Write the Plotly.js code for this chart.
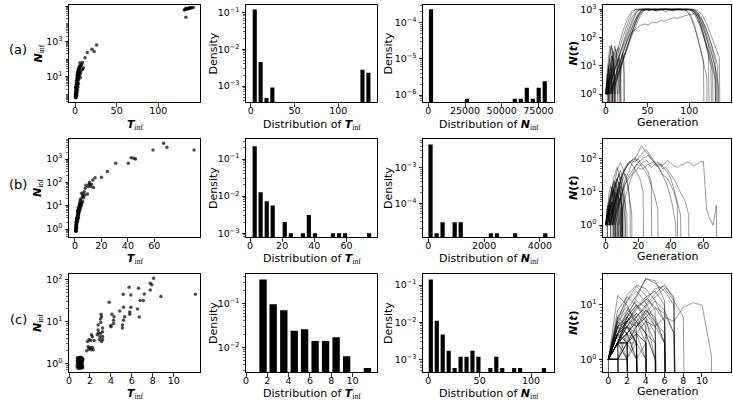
<!DOCTYPE html>
<html><head><meta charset="utf-8">
<script src="https://cdn.plot.ly/plotly-3.0.1.min.js"></script>
<style>html,body{margin:0;padding:0;background:#fff}#chart{width:733px;height:402px}</style>
</head><body><div id="chart"></div>
<script>
// ---------------- DATA ----------------
// Row (a): scatter T_inf vs N_inf
const scatterA = [[0.5,0.7],[0.8,0.8],[1,1],[0.6,1.2],[1.2,0.9],[0.9,1.5],[1.5,1.1],[1.1,2],[1.8,1.6],[0.7,2.5],[1.4,3],[2,2.2],[2.2,3.5],[1.6,4.5],[2.5,5],[1.9,6],[2.8,7],[2.3,8.5],[3,10],[2.6,12],[3.4,9],[3.2,14],[3.8,12],[2.9,17],[4,18],[3.5,22],[4.4,25],[5.2,40],[4.8,30],[5.5,20],[6,62],[6.8,17],[7,45],[8,50],[9.2,26],[10,32],[9,63],[12,120],[14.8,235],[20.4,360],[23,270],[26,620],[1,0.65],[2,0.9],[2.4,1.3],[3.1,1.8],[3.6,2.6],[4.2,4],[3.3,5.5],[4.6,7.5],[5.1,11],[5.8,14],[6.3,9],[7.5,24],[0.4,1],[1.3,1.3],
  [0.6,0.75],[1.1,0.7],[1.6,0.8],[0.9,1.1],[1.4,1.6],[1.9,1.2],[2.1,1.8],[1.2,2.4],[1.7,2.8],[2.4,2.6],[2.7,3.2],[2.1,4.2],[2.9,4.6],[3.3,6.5],[2.6,7.5],[3.6,8],[3.1,11.5],[4.1,13],[3.7,16],[4.5,20],[4.2,28],[5,16],[5.6,33],[6.5,38],[1.8,3.8],[2.3,5.8],
  [133,23000],[131,60000],[132,64000],[134,68000],[135,68000],[136,72000],[133,76000],[138,76000],[137,80000],[140,80000],[142,82000],[139,79000]];
// Row (a): histogram of T_inf
const histTA_x = [4.6, 11.3, 18.0, 24.7, 127.6, 134.4];
const histTA_y = [0.12, 0.0045, 0.00048, 0.00092, 0.0028, 0.0023];
// Row (a): histogram of N_inf
const histNA_x = [1840, 26300, 58900, 63000, 67100, 71150, 75200, 79300];
const histNA_y = [2.35e-4, 8e-7, 8e-7, 8e-7, 1.6e-6, 8e-7, 1.6e-6, 2.4e-6];
// Row (a): trajectories [start generation, step, values]
const trajA = [
 [1,5,[1,4,12,40,110,300,700,1000,1000,900,1000,980,850,1000,1000,990,920,1000,1000,1000,1000,900,600,250,90,20,3,0]],
 [3,5,[1,2,6,15,45,120,280,600,950,1000,880,1000,960,1000,1000,900,980,1000,1000,1000,940,700,350,120,30,6,0]],
 [2,5,[1,3,9,30,90,250,550,900,1000,1000,920,1000,1000,970,800,1000,1000,1000,1000,880,500,200,60,15,0]],
 [5,5,[1,2,5,14,35,90,220,480,850,1000,1000,930,1000,940,1000,870,1000,990,1000,1000,950,750,400,150,50,12,2,0]],
 [1,5,[1,5,18,60,180,450,850,1000,1000,960,1000,1000,1000,900,1000,1000,1000,950,1000,980,700,300,80,20,4,0]],
 [4,5,[1,2,7,20,55,150,350,700,1000,1000,980,900,1000,1000,1000,950,1000,1000,860,1000,1000,850,550,250,100,35,10,0]],
 [2,5,[1,3,10,28,70,180,420,800,1000,1000,1000,940,1000,1000,1000,1000,900,1000,1000,1000,920,600,300,110,45,15,3,0]],
 [6,5,[1,3,10,35,90,150,200,260,300,280,350,330,400,380,450,500,480,550,600,650,700,600,400,180,60,15,0]],
 [3,5,[1,2,4,10,30,80,200,450,800,1000,1000,1000,950,1000,1000,1000,1000,870,1000,1000,900,650,300,100,25,0]],
 [8,5,[1,3,8,25,70,200,500,900,1000,1000,960,1000,1000,1000,920,1000,1000,1000,1000,960,800,450,180,60,20,5,0]],
 [1,5,[1,3,8,20,50,130,320,700,1000,1000,1000,1000,910,1000,1000,1000,1000,1000,940,1000,1000,820,450,160,40,10,0]],
 [6,5,[1,2,6,18,50,140,380,780,1000,920,1000,1000,1000,1000,1000,960,1000,1000,1000,1000,1000,880,600,300,120,50,20,0]],
 [0,1,[1,2,4,7,12,20,30,45,38,25,12,5,0]],
 [1,1,[1,3,6,14,25,40,55,35,15,4,0]],
 [0,1,[1,1,2,1,0]],
 [2,1,[1,2,5,9,15,22,18,10,3,0]],
 [0,1,[1,3,8,15,28,50,40,20,6,0]],
 [3,1,[1,2,3,6,10,16,25,35,50,30,12,4,0]],
 [0,1,[1,2,1,0]],
 [1,1,[1,2,4,3,6,9,5,2,0]],
 [5,1,[1,2,4,8,14,22,30,40,28,15,6,2,0]],
 [8,1,[1,2,5,9,16,25,35,45,30,12,3,0]],
 [12,1,[1,3,6,12,20,15,8,2,0]],
 [0,1,[1,3,5,2,0]],
 [2,1,[1,4,10,18,12,6,1,0]],
 [4,1,[1,2,5,10,20,32,22,9,2,0]],
 [14,1,[1,2,4,8,14,20,28,15,5,0]],
 [1,1,[1,1,3,2,1,0]],
 [6,1,[1,3,7,12,9,4,1,0]],
 [0,1,[1,2,3,5,8,12,9,6,2,0]],
 [0,1,[1,2,3,2,0]],
 [1,1,[1,2,4,8,6,3,0]],
 [0,1,[1,3,7,10,6,2,0]],
 [2,1,[1,2,3,5,4,2,1,0]],
 [0,1,[1,1,2,3,1,0]],
 [3,1,[1,3,6,9,14,22,15,7,2,0]],
 [10,1,[1,2,4,7,11,17,13,6,0]],
 [16,1,[1,3,6,10,18,25,12,3,0]]
];

// Row (b)
const scatterB = [[0.5,0.8],[0.8,1],[1,1.2],[0.6,0.9],[1.2,1.5],[0.9,1.3],[1.5,1.8],[1.1,2.2],[1.8,2.5],[0.7,1.1],[1.4,2.9],[2,3.5],[2.2,4.2],[1.6,2.3],[2.5,5],[1.9,4],[2.8,6],[2.3,6.5],[3,7],[2.6,8.5],[3.4,10],[3.3,12],[4,10],[3.8,14],[4,17],[5,34],[5.8,25],[7.5,29],[9.5,32],[5.8,15],[4.5,20],[2.5,4],[2,6],[2.7,3],[1.5,2.9],[2,2.3],[0.8,1.85],[0.8,1.35],[0.5,1],[0.8,0.8],[8.3,75],[7.8,56],[10,66],[10.8,83],[12.5,83],[12,66],[14,60],[15.2,160],[20,165],[24.5,290],[30.8,660],[40.3,660],[42.5,1150],[44.5,1080],[45.8,1000],[59,2450],[67,4800],[69.5,3200],[90,2450],[6.5,22],[11,100],[13.5,126],[6,30],[7,40],[3.6,9],[4.8,12],
  [0.6,1.05],[0.9,0.85],[1.1,1.6],[1.3,1.1],[0.7,1.5],[1,2],[1.7,2],[1.3,2.6],[2.1,2.9],[2.4,3.3],[1.8,3.1],[2.9,4.5],[3.2,5.5],[2.2,5],[3.6,6.2],[4.3,8],[4.7,10],[5.2,13],[3,8]];
const histTB_x = [2.9, 6.6, 10.4, 14.1, 21.6, 25.4, 32.9, 36.6, 40.4, 51.6, 55.4, 59.1, 74.1];
const histTB_y = [0.22, 0.0128, 0.0073, 0.0056, 0.002, 0.001, 0.001, 0.0031, 0.001, 0.001, 0.001, 0.001, 0.001];
const histNB_x = [79, 296, 512, 945, 1162, 2245, 2462, 3112, 4194];
const histNB_y = [0.0045, 1.44e-5, 2.9e-5, 2.9e-5, 2.9e-5, 1.44e-5, 1.44e-5, 1.44e-5, 1.44e-5];
const trajB = [
 [4,2,[1,2,5,9,18,25,35,40,55,48,60,70,55,65,80,60,70,90,75,60,55,65,70,80,75,60,70,80,85,3,1.5,1,4,0]],
 [6,2,[1,4,10,25,40,70,100,150,250,180,140,100,80,60,40,30,25,15,10,4,0]],
 [3,2,[1,3,8,20,40,60,80,100,90,120,160,190,140,100,70,50,30,20,10,4,1,0]],
 [2,2,[1,2,6,15,30,50,70,90,80,100,70,60,40,20,0]],
 [5,2,[1,3,6,12,25,35,50,70,60,80,90,70,80,60,75,50,55,40,30,20,12,8,5,2,0]],
 [1,1,[1,3,6,10,18,30,45,60,75,60,45,30,20,12,5,2,0]],
 [3,2,[1,4,10,25,45,70,85,60,40,25,10,0]],
 [2,2,[1,2,5,12,30,50,75,90,110,80,60,45,30,15,8,3,0]],
 [8,2,[1,3,7,15,30,55,80,95,110,130,100,80,60,70,50,40,25,12,5,2,0]],
 [0,1,[1,2,5,9,14,10,6,2,0]],
 [1,1,[1,3,7,12,20,15,9,4,0]],
 [0,1,[1,1,2,4,3,1,0]],
 [2,1,[1,2,4,8,15,25,30,22,12,5,1,0]],
 [0,1,[1,3,2,1,0]],
 [3,1,[1,2,6,10,8,5,2,0]],
 [1,1,[1,2,3,6,12,18,14,8,3,0]],
 [0,1,[1,4,9,15,10,5,1,0]],
 [4,1,[1,2,2,4,7,5,3,0]],
 [2,1,[1,1,3,6,11,16,20,12,4,0]],
 [1,1,[1,2,5,3,1,0]],
 [3,1,[1,3,8,14,22,35,28,15,5,0]],
 [0,1,[1,2,4,6,9,12,8,5,3,1,0]],
 [1,1,[1,3,5,8,14,20,26,18,9,3,0]],
 [0,1,[1,2,3,2,4,6,3,1,0]],
 [2,1,[1,4,8,13,18,24,33,45,30,14,6,0]],
 [0,1,[1,1,0]],
 [0,1,[1,2,0]],
 [1,1,[1,2,4,5,3,0]],
 [0,1,[1,3,6,9,15,22,17,12,6,0]],
 [3,1,[1,2,4,7,12,10,7,3,0]],
 [0,1,[1,2,5,7,10,14,18,24,16,8,2,0]],
 [5,1,[1,3,5,9,13,20,28,36,25,11,3,0]],
 [0,1,[1,4,2,1,0]],
 [1,1,[1,2,3,5,9,6,4,1,0]],
 [2,1,[1,3,6,12,8,4,0]],
 [0,1,[1,2,4,9,16,28,40,55,38,22,9,2,0]],
 [4,1,[1,2,3,6,10,15,12,8,4,2,0]],
 [0,1,[1,2,2,3,5,4,2,0]],
 [1,1,[1,1,2,3,2,1,0]],
 [0,1,[1,3,4,7,11,8,4,0]],
 [2,1,[1,2,3,4,6,9,6,3,1,0]],
 [0,1,[1,2,4,3,2,0]],
 [3,1,[1,1,2,5,8,13,9,4,0]]
];

// Row (c)
const scatterC = [[0.8,0.8],[0.9,1],[1,1.2],[1.1,0.9],[1.2,1.1],[0.85,1.3],[0.95,0.85],[1.05,1.05],[1.15,1.3],[1.25,0.8],[0.8,1.15],[0.9,0.75],[1,0.95],[1.1,1.25],[1.2,0.95],[1.3,1.2],[0.85,1],[0.95,1.35],[1.05,0.78],[1.15,1.1],[1.25,1],[1.3,0.88],
 [0.78,0.9],[0.82,1.22],[0.88,0.8],[0.92,1.1],[0.98,1.28],[1.02,0.82],[1.08,1.15],[1.12,0.76],[1.18,1.2],[1.22,0.86],[1.28,1.1],[1.32,1.3],[0.8,1.35],[0.9,1.2],[1,0.78],[1.1,1.05],[1.2,1.35],[1.3,0.78],[0.87,0.92],[0.97,1.12],[1.07,0.9],[1.17,0.84],[1.27,1.25],[0.83,1.06],[0.93,0.97],[1.03,1.4],[1.13,1.37],[1.23,1.15],
 [8.07,109],[7.75,83],[7.9,76],[6.64,63],[5.74,66],[7.75,57],[5.17,45],[7.18,46],[5.9,43],[3.83,29],[8.77,40],[6.79,32],[7.1,32],[5.2,22],[5.9,22],[6.54,20],[4.85,18],[5.8,17],[5.8,15],[3.06,15],[3.1,13],[4.09,15],[4.3,13],[5.3,13],[6.7,12.9],[3,11.5],[5.2,10.7],[4.25,10.7],[3.03,9.5],[4.25,9],[5.1,8.3],[4,8],[2.78,8.3],[5.1,7],[2.78,6.3],[3.2,7],[4,7.5],[2.8,5.4],[3,5.2],[2.7,4.8],[3.2,5.7],[2.95,4.3],[3.2,4.4],[2.9,3.7],[3.2,3.7],[3.1,3.3],[2.14,4.8],[2.23,4.3],[1.92,3.7],[1.76,3.3],[2.07,3.5],[2.4,3.5],[1.82,2.5],[2,2.4],[2.23,2.4],[1.9,2.2],[2.1,2.1],[1.7,2],[2.3,2.1],[12.06,45]];
const histTC_x = [1.6, 2.55, 3.55, 4.53, 5.5, 6.49, 7.47, 8.46, 9.45, 11.4];
const histTC_y = [0.35, 0.096, 0.07, 0.024, 0.026, 0.014, 0.014, 0.017, 0.0063, 0.0034];
const histNC_x = [2.4, 8.2, 14.0, 19.8, 25.6, 31.4, 37.2, 43.0, 48.8, 60.4, 66.2, 72.0, 83.6, 89.4, 112.6];
const histNC_y = [0.142, 0.011, 0.0047, 0.0017, 0.00059, 0.00117, 0.00117, 0.0017, 0.00117, 0.00059, 0.00117, 0.00059, 0.00059, 0.00059, 0.00059];
const trajC = [
 [0,1,[1,0]],[0,1,[1,2,0]],[0,1,[1,0]],[0,1,[1,3,1,0]],[0,1,[1,2,2,0]],[0,1,[1,1,0]],
 [0,1,[1,4,6,3,0]],[0,1,[1,3,8,15,30,28,12,0]],[0,1,[1,2,6,14,31,25,18,10,0]],
 [0,1,[1,5,15,23,20,12,5,0]],[0,1,[1,15,10,4,0]],[0,1,[1,4,12,22,15,8,0]],
 [0,1,[1,2,5,9,12,20,22,14,0]],[0,1,[1,2,4,3,5,4,6,5,9,11,10,1.2,0]],
 [0,1,[1,3,6,10,7,4,2,0]],[0,1,[1,2,5,8,13,9,5,0]],[0,1,[1,6,9,5,2,0]],
 [0,1,[1,3,2,4,7,12,8,3,0]],[0,1,[1,2,3,2,1,0]],[0,1,[1,8,14,10,6,1,0]],
 [0,1,[1,2,1,3,2,0]],[0,1,[1,4,3,6,10,16,24,13,0]],[0,1,[1,3,7,5,3,1,0]],
 [0,1,[1,1,2,4,6,9,7,3,0]],[0,1,[1,2,4,7,5,2,0]],[0,1,[1,5,3,1,0]],
 [0,1,[1,3,5,9,14,18,10,0]],[0,1,[1,2,2,3,1,0]],[0,1,[1,6,12,18,11,5,2,0]],
 [0,1,[1,1,1,0]],[0,1,[1,3,4,2,0]],[0,1,[1,2,6,4,8,5,3,0]],
 [0,1,[1,2,3,1,0]],[0,1,[1,1,2,0]],[0,1,[1,3,0]],[0,1,[1,2,4,2,0]],[0,1,[1,4,2,0]],
 [0,1,[1,2,1,0]],[0,1,[1,1,2,3,2,0]],[0,1,[1,3,5,7,4,0]],[0,1,[1,2,6,10,5,0]],
 [0,1,[1,5,8,6,3,1,0]],[0,1,[1,1,3,5,3,2,0]],[0,1,[1,2,3,5,8,6,2,0]],
 [0,1,[1,3,4,6,9,14,20,12,6,0]],[0,1,[1,2,2,1,2,0]],[0,1,[1,4,7,12,9,4,0]],
 [0,1,[1,2,5,4,6,3,0]],[0,1,[1,1,1,2,0]],[0,1,[1,6,4,2,0]],
 [0,1,[1,2,0]],[0,1,[1,3,2,0]],[0,1,[1,1,0]],[0,1,[1,2,3,0]],[0,1,[1,4,5,2,0]],[0,1,[1,2,2,2,0]]
];

const rowLabels = ['(a)','(b)','(c)'];

// ---------------- BUILD ----------------
const W = 733, H = 402;
const colPx = [[69,200],[246,377],[423,554],[603,731]];
const rowPx = [[5,102],[139,237],[274,372]];
const traces = [];
const layout = {width:W, height:H, margin:{l:0,r:0,t:0,b:0}, showlegend:false,
  paper_bgcolor:'#fff', plot_bgcolor:'#fff',
  font:{family:'DejaVu Sans', size:9.5, color:'#000'}, annotations:[]};

function sfx(i){ return i===1 ? '' : String(i); }
function sup(e){ return '10<sup>' + (e<0 ? '\u2212'+(-e) : e) + '</sup>'; }

function setAxes(r, c, xr, xt, yr, yexp){
  const i = r*4 + c + 1;
  const common = {showline:true, mirror:true, linecolor:'#000', linewidth:1, ticks:'outside', ticklen:3.5,
    tickwidth:0.8, tickcolor:'#000', showgrid:false, zeroline:false,
    tickfont:{size:9.5, family:'DejaVu Sans', color:'#000'}};
  layout['xaxis'+sfx(i)] = Object.assign({}, common, {domain:[colPx[c][0]/W, colPx[c][1]/W], anchor:'y'+sfx(i),
    range:xr, tickmode:'array', tickvals:xt, ticktext:xt.map(String), ticklabelstandoff:-4});
  layout['yaxis'+sfx(i)] = Object.assign({}, common, {domain:[1-rowPx[r][1]/H, 1-rowPx[r][0]/H], anchor:'x'+sfx(i),
    type:'log', range:yr, tickmode:'array', tickvals:yexp.map(e=>Math.pow(10,e)), ticktext:yexp.map(sup),
    minor:{ticks:'outside', ticklen:2, tickwidth:0.6, tickcolor:'#000', dtick:'D1'}});
  return {xaxis:'x'+sfx(i), yaxis:'y'+sfx(i)};
}

function addScatter(ax, pts){
  traces.push(Object.assign({type:'scatter', mode:'markers', x:pts.map(p=>p[0]), y:pts.map(p=>p[1]),
    marker:{size:3.5, color:'rgba(0,0,0,0.7)', line:{width:0}}, hoverinfo:'skip'}, ax));
}
function addHist(ax, xs, ys, w){
  traces.push(Object.assign({type:'bar', x:xs, y:ys, width:xs.map(()=>w), marker:{color:'#000', line:{width:0}}, hoverinfo:'skip'}, ax));
}
function addTraj(ax, trajs){
  trajs.forEach(tr => {
    const t0 = tr[0], dt = tr[1], v = tr[2];
    traces.push(Object.assign({type:'scatter', mode:'lines', x:v.map((_,k)=>t0+k*dt),
      y:v.map(n => n>0 ? n : 1e-12), line:{color:'rgba(0,0,0,0.5)', width:0.8}, hoverinfo:'skip'}, ax));
  });
}

let ax;
ax = setAxes(0,0,[-7.2,150],[0,50,100],[-0.43,5.06],[1,3,5]); addScatter(ax, scatterA);
ax = setAxes(0,1,[-5.4,144.2],[0,50,100],[-3.43,-0.8],[-3,-2,-1]); addHist(ax, histTA_x, histTA_y, 4.7);
ax = setAxes(0,2,[-3600,85600],[0,25000,50000,75000],[-6.19,-3.51],[-6,-5,-4]); addHist(ax, histNA_x, histNA_y, 2850);
ax = setAxes(0,3,[-3.2,150],[0,50,100],[-0.28,3.15],[0,1,2,3]); addTraj(ax, trajA);
ax = setAxes(1,0,[-4.5,94.5],[0,20,40,60],[-0.34,3.86],[0,1,2,3]); addScatter(ax, scatterB);
ax = setAxes(1,1,[-2.5,79],[0,20,40,60],[-3.1,-0.46],[-3,-2,-1]); addHist(ax, histTB_x, histTB_y, 2.6);
ax = setAxes(1,2,[-190,4505],[0,2000,4000],[-4.95,-2.19],[-4,-3]); addHist(ax, histNB_x, histNB_y, 152);
ax = setAxes(1,3,[-1.7,77],[0,20,40,60],[-0.36,2.6],[0,1,2]); addTraj(ax, trajB);
ax = setAxes(2,0,[0,12.5],[0,2,4,6,8,10],[-0.21,2.14],[0,1,2]); addScatter(ax, scatterC);
ax = setAxes(2,1,[0,12.3],[0,2,4,6,8,10],[-2.56,-0.33],[-2,-1]); addHist(ax, histTC_x, histTC_y, 0.69);
ax = setAxes(2,2,[-5.2,122.4],[0,50,100],[-3.34,-0.7],[-3,-2,-1]); addHist(ax, histNC_x, histNC_y, 4.06);
ax = setAxes(2,3,[-0.57,13.1],[0,2,4,6,8,10],[-0.234,1.57],[0,1]); addTraj(ax, trajC);

const serif = "font-family:'Liberation Serif'";
const Tinf = "<b><i>T</i></b><sub><span style=\"" + serif + "\">inf</span></sub>";
const Ninf = "<b><i>N</i></b><sub><span style=\"" + serif + "\">inf</span></sub>";
const xTitles = [Tinf, 'Distribution of ' + Tinf, 'Distribution of ' + Ninf, 'Generation'];
const yTitles = [Ninf, 'Density', 'Density', '<b><i>N</i>(<i>t</i>)</b>'];
const yTitleX = [38, 213, 388, 573];
const rowOff = [0, 134, 269];
function ann(px, py, text, opts){
  layout.annotations.push(Object.assign({xref:'paper', yref:'paper', x:px/W, y:1-py/H, text:text, showarrow:false,
    xanchor:'center', yanchor:'middle', font:{family:'DejaVu Sans', size:11, color:'#000'}}, opts||{}));
}
for (let r=0; r<3; r++){
  const cy = (rowPx[r][0]+rowPx[r][1])/2;
  for (let c=0; c<4; c++){
    const cx = (colPx[c][0]+colPx[c][1])/2;
    ann(cx, (c===3 ? 122 : 125) + rowOff[r], xTitles[c]);
    ann(yTitleX[c], cy, yTitles[c], {textangle:-90});
  }
  ann(18, 50 + rowOff[r], rowLabels[r], {font:{family:'DejaVu Sans', size:13, color:'#000'}});
}

Plotly.newPlot('chart', traces, layout, {staticPlot:true, displayModeBar:false});
</script></body></html>
